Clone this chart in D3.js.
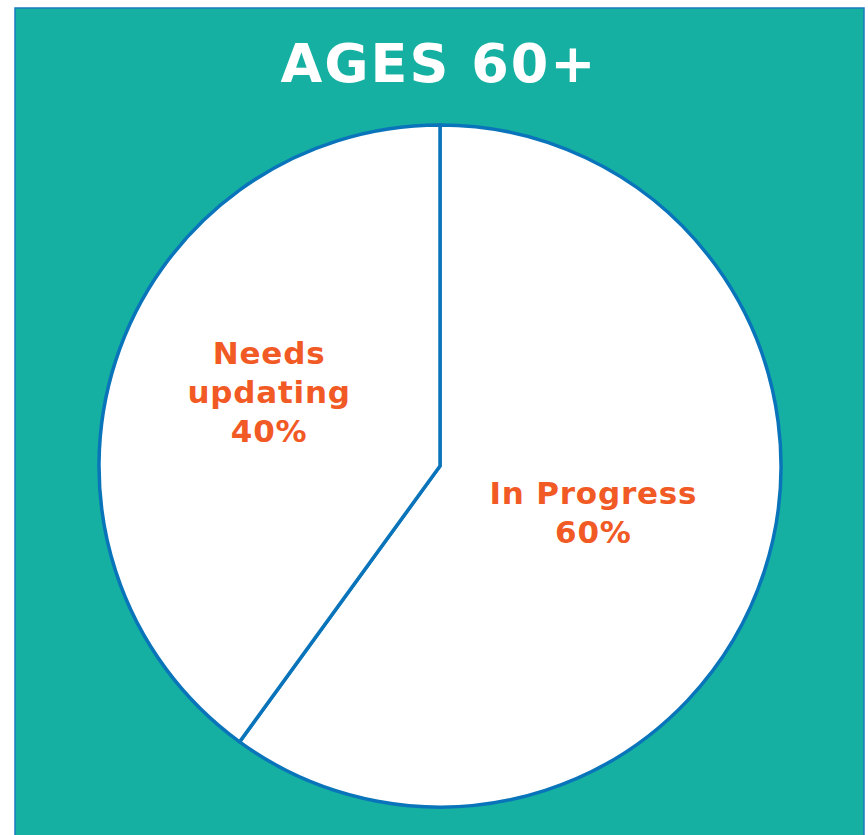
<!DOCTYPE html>
<html>
<head>
<meta charset="utf-8">
<script src="https://cdn.jsdelivr.net/npm/d3@7"></script>
<style>
  html, body { margin: 0; padding: 0; background: #ffffff; }
  svg { display: block; }
</style>
</head>
<body>
<svg id="chart" width="868" height="835"></svg>
<script>
const title = "AGES 60+";
const categories = ["In Progress", "Needs updating"];
const values = [60, 40];
const labelLines = [["In Progress", "60%"], ["Needs", "updating", "40%"]];

const svg = d3.select("#chart");

// background panel
svg.append("rect")
  .attr("x", 15).attr("y", 8)
  .attr("width", 849).attr("height", 840)
  .attr("fill", "#15b0a2")
  .attr("stroke", "#1a7bbf")
  .attr("stroke-width", 1.5);

svg.append("text")
  .attr("x", 439).attr("y", 82)
  .attr("text-anchor", "middle")
  .attr("font-family", "DejaVu Sans, Verdana, sans-serif")
  .attr("font-weight", "bold")
  .attr("font-size", 54)
  .attr("letter-spacing", 2)
  .attr("fill", "#ffffff")
  .text(title);

const cx = 440, cy = 466, R = 341;
const g = svg.append("g").attr("transform", `translate(${cx},${cy})`);

const pie = d3.pie().sort(null).value(d => d);
const arcs = pie(values);
const arc = d3.arc().innerRadius(0).outerRadius(R);

g.selectAll("path.slice")
  .data(arcs)
  .join("path")
  .attr("class", "slice")
  .attr("d", arc)
  .attr("fill", "#ffffff")
  .attr("stroke", "#0a74bb")
  .attr("stroke-width", 3.5)
  .attr("stroke-linejoin", "round");

const labelR = [0.47 * R, 0.53 * R];
const lineH = 39;
arcs.forEach((a, i) => {
  const la = d3.arc().innerRadius(labelR[i]).outerRadius(labelR[i]);
  const [x, y0] = la.centroid(a);
  const lines = labelLines[i];
  const yAdj = i === 1 ? -18 : -3;
  const t = g.append("text")
    .attr("text-anchor", "middle")
    .attr("font-family", "DejaVu Sans, Verdana, sans-serif")
    .attr("font-weight", "bold")
    .attr("font-size", 31)
    .attr("letter-spacing", 0.8)
    .attr("fill", "#f15a24");
  lines.forEach((s, j) => {
    t.append("tspan")
      .attr("x", x + 1)
      .attr("y", y0 + yAdj + (j - (lines.length - 1) / 2) * lineH + 11)
      .text(s);
  });
});
</script>
</body>
</html>
